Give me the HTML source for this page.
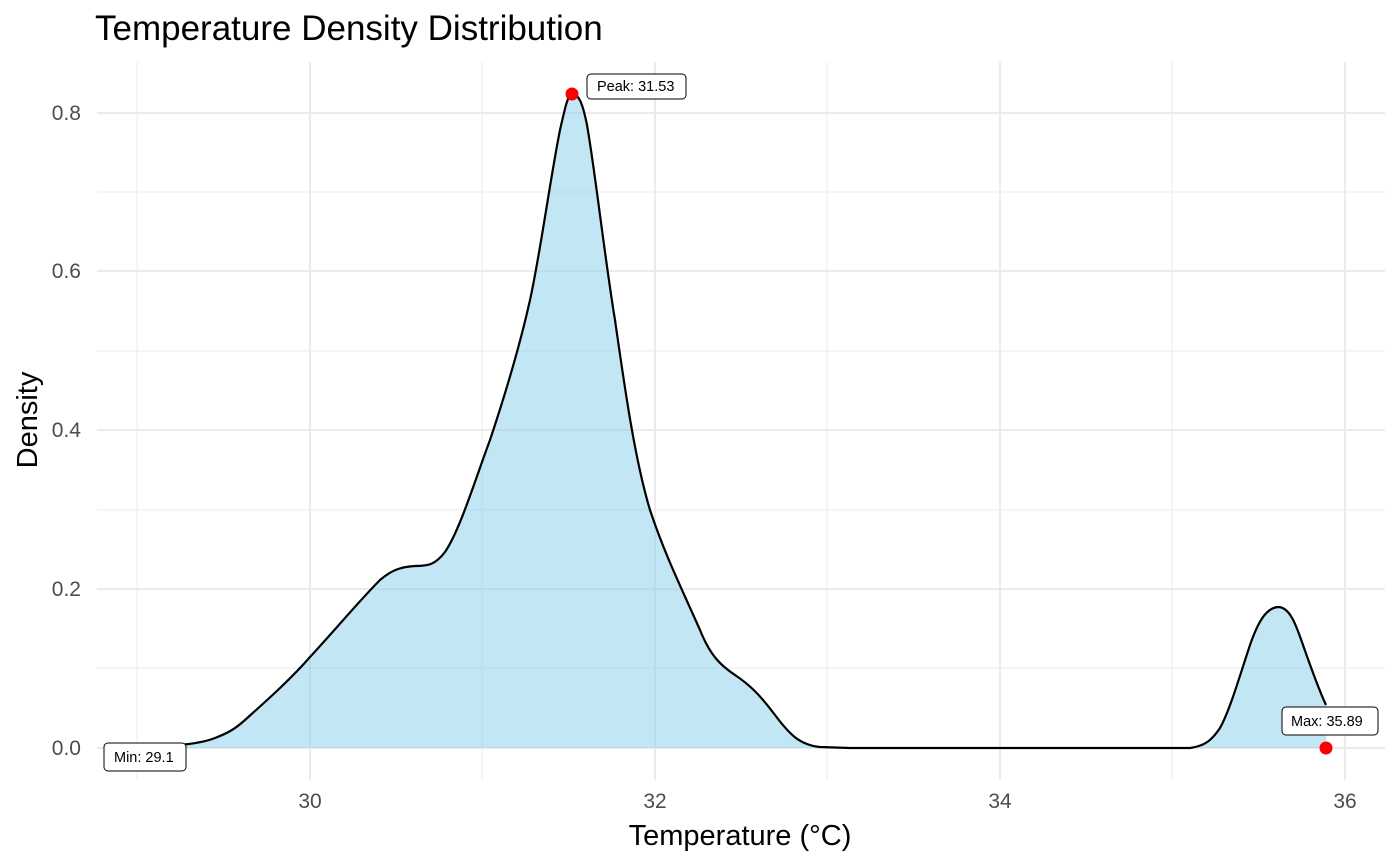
<!DOCTYPE html>
<html><head><meta charset="utf-8"><style>body{margin:0;background:#fff}svg{display:block;font-family:"Liberation Sans",sans-serif}</style></head><body>
<svg width="1400" height="865" viewBox="0 0 1400 865">
<rect width="1400" height="865" fill="#fff"/>
<g stroke="#ebebeb" stroke-width="1">
<line x1="137" y1="62" x2="137" y2="780"/><line x1="482" y1="62" x2="482" y2="780"/><line x1="827" y1="62" x2="827" y2="780"/><line x1="1172" y1="62" x2="1172" y2="780"/>
<line x1="97" y1="668" x2="1385" y2="668"/><line x1="97" y1="510" x2="1385" y2="510"/><line x1="97" y1="351" x2="1385" y2="351"/><line x1="97" y1="192" x2="1385" y2="192"/>
</g>
<g stroke="#ebebeb" stroke-width="2">
<line x1="310" y1="62" x2="310" y2="780"/><line x1="655" y1="62" x2="655" y2="780"/><line x1="1000" y1="62" x2="1000" y2="780"/><line x1="1345" y1="62" x2="1345" y2="780"/>
<line x1="97" y1="748" x2="1385" y2="748"/><line x1="97" y1="589" x2="1385" y2="589"/><line x1="97" y1="430" x2="1385" y2="430"/><line x1="97" y1="271" x2="1385" y2="271"/><line x1="97" y1="113" x2="1385" y2="113"/>
</g>
<path d="M145,748 L145,747 C175,746 200,744 215,738 C228,733 235,729 245,720 C265,702 290,680 310,657 C335,630 360,600 380,580 C392,570 400,567 415,566 C428,566 435,565 445,552 C460,530 475,480 490,440 C505,395 520,345 530,300 C540,255 550,180 560,130 C565,108 568,94 572,94 C578,94 582,100 587,125 C595,170 605,260 615,320 C625,390 635,460 650,510 C665,555 680,585 700,630 C710,655 720,665 735,675 C750,685 760,695 775,715 C790,735 800,745 820,747 L850,748 L1190,748 C1205,746 1212,740 1220,728 C1230,710 1240,675 1250,645 C1258,622 1266,608 1278,607 C1290,607 1296,625 1303,645 C1310,665 1318,688 1326,705 L1326,748 Z" fill="#87ceeb" fill-opacity="0.5" stroke="none"/>
<path d="M145,747 C175,746 200,744 215,738 C228,733 235,729 245,720 C265,702 290,680 310,657 C335,630 360,600 380,580 C392,570 400,567 415,566 C428,566 435,565 445,552 C460,530 475,480 490,440 C505,395 520,345 530,300 C540,255 550,180 560,130 C565,108 568,94 572,94 C578,94 582,100 587,125 C595,170 605,260 615,320 C625,390 635,460 650,510 C665,555 680,585 700,630 C710,655 720,665 735,675 C750,685 760,695 775,715 C790,735 800,745 820,747 L850,748 L1190,748 C1205,746 1212,740 1220,728 C1230,710 1240,675 1250,645 C1258,622 1266,608 1278,607 C1290,607 1296,625 1303,645 C1310,665 1318,688 1326,705" fill="none" stroke="#000" stroke-width="2.2"/>
<circle cx="572" cy="94" r="6.5" fill="#f00"/>
<circle cx="1326" cy="748" r="6.5" fill="#f00"/>
<g font-size="14.5" fill="#000">
<rect x="587" y="74" width="99" height="25" rx="4" fill="#fff" stroke="#000"/><text x="597" y="91">Peak: 31.53</text>
<rect x="1282" y="707" width="96" height="28" rx="4" fill="#fff" stroke="#000"/><text x="1291" y="726">Max: 35.89</text>
<rect x="104" y="743" width="82" height="28" rx="4" fill="#fff" stroke="#000"/><text x="114" y="762">Min: 29.1</text>
</g>
<g font-size="21" fill="#4d4d4d" text-anchor="end">
<text x="81" y="755">0.0</text><text x="81" y="596">0.2</text><text x="81" y="437">0.4</text><text x="81" y="278">0.6</text><text x="81" y="120">0.8</text>
</g>
<g font-size="21" fill="#4d4d4d" text-anchor="middle">
<text x="310" y="808">30</text><text x="655" y="808">32</text><text x="1000" y="808">34</text><text x="1345" y="808">36</text>
</g>
<text x="740" y="845" font-size="29" text-anchor="middle">Temperature (°C)</text>
<text transform="translate(37,420) rotate(-90)" font-size="29" text-anchor="middle">Density</text>
<text x="95" y="40" font-size="35">Temperature Density Distribution</text>
</svg>
</body></html>
